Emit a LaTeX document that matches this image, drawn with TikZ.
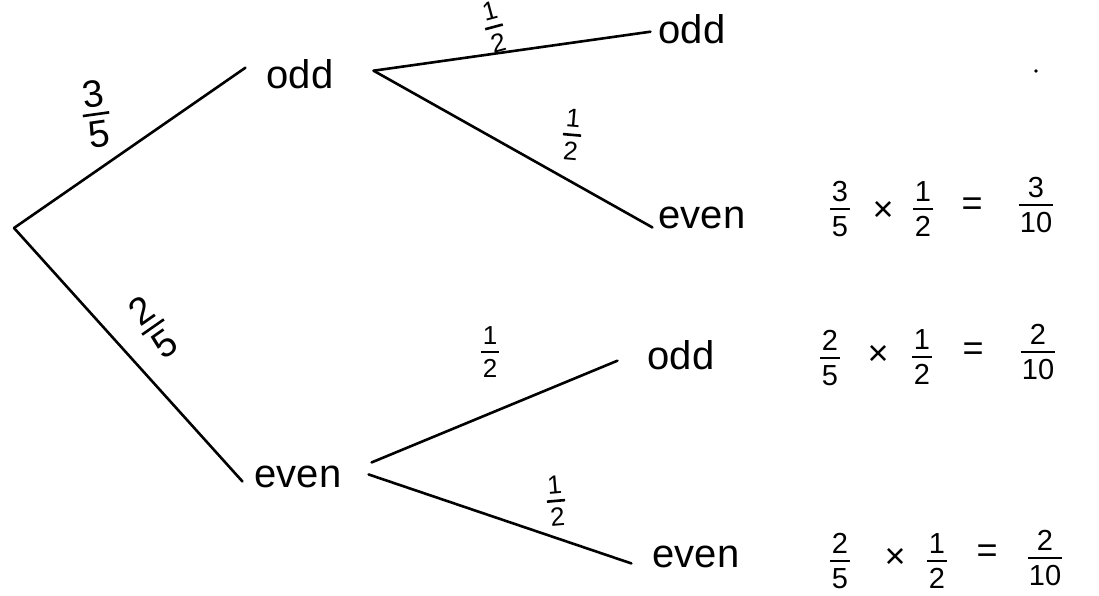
\documentclass[tikz,border=0pt]{standalone}
\usepackage{fontspec}
\setmainfont{Liberation Sans}
\newcommand\fr[3][0.7em]{\vbox{\offinterlineskip\halign{\hfil##\hfil\cr #2\cr\noalign{\vskip 6pt}\rule{#1}{2.6pt}\cr\noalign{\vskip 6pt}#3\cr}}}
\begin{document}
\begin{tikzpicture}[x=1pt,y=-1pt,
  word/.style={font=\fontsize{40}{42}\selectfont, inner sep=0pt, anchor=base},
  lab/.style={font=\fontsize{26}{28}\selectfont, inner sep=0pt},
  biglab/.style={font=\fontsize{38}{40}\selectfont, inner sep=0pt},
  prod/.style={font=\fontsize{29}{31}\selectfont, inner sep=0pt},
  op/.style={font=\fontsize{36}{38}\selectfont, inner sep=0pt},
  branch/.style={line width=2.6pt, line cap=round}]
\useasboundingbox (0,0) rectangle (1099,595);
\coordinate (root) at (14,228);
% words
\node[word] (odd1) at (300,88) {odd};
\node[word] (even1) at (298,487) {even};
\node[word] (oo) at (692,43) {odd};
\node[word] (oe) at (702,228) {even};
\node[word] (eo) at (681,369) {odd};
\node[word] (ee) at (696,567) {even};
% branches
\draw[branch] (root) -- ([xshift=-21pt,yshift=6pt]odd1.west);
\draw[branch] (root) -- ([xshift=-12pt,yshift=-5pt]even1.west);
\draw[branch] ([xshift=40pt,yshift=3pt]odd1.east) -- ([xshift=-8pt,yshift=-3pt]oo.west);
\draw[branch] ([xshift=40pt,yshift=3pt]odd1.east) -- ([xshift=-6pt,yshift=-10pt]oe.west);
\draw[branch] ([xshift=30pt,yshift=14pt]even1.east) -- ([xshift=-30pt,yshift=-6pt]eo.west);
\draw[branch] ([xshift=27pt,yshift=2pt]even1.east) -- ([xshift=-21pt,yshift=-7pt]ee.west);
% branch labels
\node[biglab, rotate=8] (l35) at (96,114) {\fr{3}{5}};
\node[biglab, rotate=35] (l25) at (153,327) {\fr{2}{5}};
\node[lab, rotate=15] (lt) at (494,27) {\fr{1}{2}};
\node[lab, rotate=-5] (lm) at (572,135) {\fr{1}{2}};
\node[lab] (lb1) at (490,352) {\fr{1}{2}};
\node[lab, rotate=5] (lb2) at (556,501) {\fr{1}{2}};
% products row 1
\node[prod] (a1) at (840,209) {\fr{3}{5}};
\node[op] (x1) at (883,211) {×};
\node[prod] (b1) at (923,209) {\fr{1}{2}};
\node[op] (e1) at (972,207) {=};
\node[prod] (r1) at (1036,205) {\fr[1.2em]{3}{10}};
% products row 2
\node[prod] (a2) at (830,358) {\fr{2}{5}};
\node[op] (x2) at (878,355) {×};
\node[prod] (b2) at (922,357) {\fr{1}{2}};
\node[op] (e2) at (973,352) {=};
\node[prod] (r2) at (1038,352) {\fr[1.2em]{2}{10}};
% products row 3
\node[prod] (a3) at (840,561) {\fr{2}{5}};
\node[op] (x3) at (895,558) {×};
\node[prod] (b3) at (937,561) {\fr{1}{2}};
\node[op] (e3) at (987,554) {=};
\node[prod] (r3) at (1045,558) {\fr[1.2em]{2}{10}};
% stray dot
\fill (1036,71) circle (1.8);
\end{tikzpicture}
\end{document}
